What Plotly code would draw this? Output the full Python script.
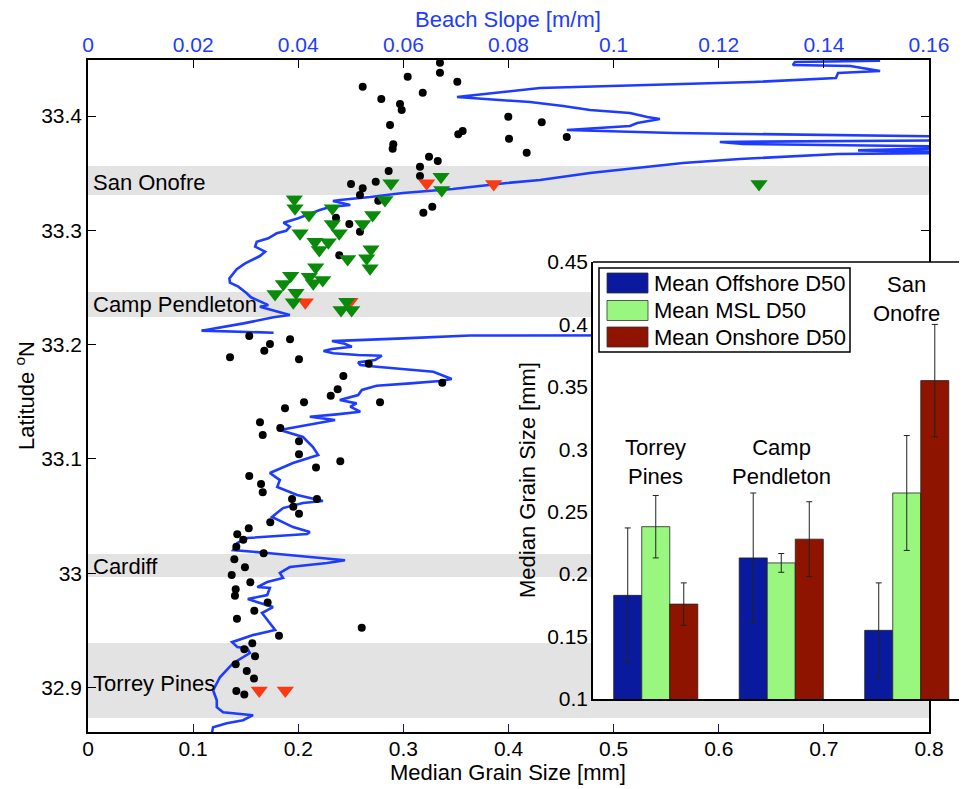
import plotly.graph_objects as go

# ---------------- data ----------------
# Beach slope profile along the coast (latitude, slope); None = gap
slope_lat = [33.4484, 33.4472, 33.4446, 33.4437, 33.4394, 33.4376, 33.4332, 33.4297, 33.4245, 33.4166,
             33.4122, 33.4087, 33.4052, 33.4026, 33.3991, 33.3974, 33.3939, 33.3913, 33.3878, 33.3851,
             33.3816, 33.3790, 33.3773, 33.3755, 33.3729, 33.3699, 33.3680, 33.3668, 33.3624, 33.3589,
             33.3501, 33.3440, 33.3414, 33.3361, 33.3326, 33.3291, 33.3265, 33.3256, 33.3221, 33.3204,
             33.3178, 33.3105, 33.3067, 33.3031, 33.2996, 33.2974, 33.2930, 33.2900, 33.2857, 33.2813,
             33.2775, 33.2711, 33.2659, 33.2580, 33.2542, 33.2507, 33.2449, 33.2414, 33.2346, 33.2332,
             33.2259, 33.2239, 33.2186, 33.2122, 33.2104, None,
             33.2084, 33.2080, 33.2055, 33.2031, 33.2011, 33.1982, 33.1962, 33.1944, 33.1924, 33.1909,
             33.1903, 33.1865, 33.1845, 33.1822, 33.1807, 33.1763, 33.1699, 33.1682, 33.1661, 33.1640,
             33.1603, 33.1559, 33.1515, 33.1486, 33.1457, 33.1413, 33.1390, 33.1369, 33.1340, 33.1297,
             33.1270, 33.1253, 33.1192, 33.1104, 33.1034, 33.0964, 33.0877, 33.0815, 33.0754, 33.0684,
             33.0632, 33.0614, 33.0570, 33.0492, 33.0404, 33.0360, 33.0343, 33.0308, 33.0264, 33.0203,
             33.0177, 33.0142, 33.0114, 33.0089, 33.0054, 33.0002, 32.9958, 32.9923, 32.9879, 32.9871,
             32.9809, 32.9774, 32.9704, 32.9652, 32.9564, 32.9503, 32.9459, 32.9397, 32.9354, 32.9345,
             32.9301, 32.9213, 32.9090, 32.8976, 32.8889, 32.8828, 32.8784, 32.8758, 32.8714, 32.8688,
             32.8653, 32.8609]
slope_val = [0.1507, 0.1345, 0.1341, 0.1450, 0.1507, 0.1427, 0.1423, 0.1265, 0.0860, 0.0702,
             0.0841, 0.0904, 0.0955, 0.1031, 0.1064, 0.1088, 0.1045, 0.1031, 0.0911, 0.1113,
             0.1720, 0.1720, 0.1202, 0.1246, 0.1720, 0.1465, 0.1720, 0.1427, 0.1240, 0.1132,
             0.0955, 0.0860, 0.0797, 0.0694, 0.0599, 0.0537, 0.0479, 0.0466, 0.0499, 0.0460,
             0.0441, 0.0400, 0.0372, 0.0384, 0.0377, 0.0359, 0.0343, 0.0321, 0.0318, 0.0337,
             0.0327, 0.0299, 0.0283, 0.0269, 0.0270, 0.0286, 0.0302, 0.0310, 0.0343, 0.0327,
             0.0384, 0.0353, 0.0296, 0.0216, 0.0353, None,
             0.1750, 0.0727, 0.0600, 0.0464, 0.0486, 0.0502, 0.0464, 0.0448, 0.0467, 0.0514,
             0.0559, 0.0546, 0.0514, 0.0518, 0.0549, 0.0657, 0.0692, 0.0670, 0.0613, 0.0549,
             0.0521, 0.0514, 0.0479, 0.0511, 0.0499, 0.0518, 0.0473, 0.0422, 0.0470, 0.0416,
             0.0379, 0.0365, 0.0409, 0.0428, 0.0438, 0.0390, 0.0346, 0.0365, 0.0360, 0.0398,
             0.0447, 0.0409, 0.0371, 0.0350, 0.0390, 0.0422, 0.0417, 0.0303, 0.0284, 0.0276,
             0.0341, 0.0428, 0.0489, 0.0455, 0.0384, 0.0365, 0.0371, 0.0341, 0.0322, 0.0346,
             0.0341, 0.0304, 0.0352, 0.0331, 0.0346, 0.0356, 0.0314, 0.0274, 0.0284, 0.0303,
             0.0308, 0.0276, 0.0251, 0.0238, 0.0245, 0.0245, 0.0257, 0.0314, 0.0295, 0.0264,
             0.0238, 0.0236]

# Median grain size samples (black dots)
dot_d50 = [0.2613, 0.3348, 0.3348, 0.3513, 0.3041, 0.2790, 0.2968, 0.2984, 0.3184, 0.2873,
           0.2904, 0.2898, 0.3522, 0.3564, 0.3998, 0.4005, 0.4173, 0.4316, 0.4554, 0.2860,
           0.3158, 0.3244, 0.3327, 0.3158, 0.2737, 0.2502, 0.2613, 0.2587, 0.2761, 0.3275,
           0.3190, 0.2359, 0.2486, 0.2587, 0.2390, 0.1534, 0.1731, 0.1677, 0.1922, 0.1351,
           0.2007, 0.2670, 0.2429, 0.3370, 0.2375, 0.2309, 0.2778, 0.2055, 0.1874, 0.1636,
           0.1829, 0.1662, 0.2007, 0.2007, 0.2400, 0.2169, 0.1534, 0.1646, 0.1662, 0.1941,
           0.2178, 0.1953, 0.2007, 0.1734, 0.1529, 0.1420, 0.1477, 0.1411, 0.1671, 0.1392,
           0.1493, 0.1367, 0.1544, 0.1405, 0.1398, 0.1709, 0.1582, 0.1417, 0.2604, 0.1817,
           0.1563, 0.1487, 0.1589, 0.1405, 0.1510, 0.1579, 0.1411, 0.1487]
dot_lat = [33.4256, 33.4466, 33.4379, 33.4300, 33.4344, 33.4149, 33.4105, 33.4052, 33.4204, 33.3921,
           33.3752, 33.3714, 33.3840, 33.3869, 33.3994, 33.3801, 33.3679, 33.3945, 33.3816, 33.3519,
           33.3556, 33.3644, 33.3606, 33.3475, 33.3425, 33.3405, 33.3367, 33.3309, 33.3259, 33.3206,
           33.3154, 33.3110, 33.3055, 33.2988, 33.2781, 33.2075, 33.2005, 33.1947, 33.2046, 33.1889,
           33.1871, 33.1833, 33.1725, 33.1667, 33.1609, 33.1553, 33.1495, 33.1495, 33.1443, 33.1320,
           33.1270, 33.1209, 33.1154, 33.1040, 33.0979, 33.0926, 33.0850, 33.0780, 33.0708, 33.0649,
           33.0649, 33.0582, 33.0521, 33.0445, 33.0393, 33.0340, 33.0293, 33.0232, 33.0174, 33.0122,
           33.0052, 32.9984, 32.9920, 32.9859, 32.9803, 32.9745, 32.9672, 32.9602, 32.9523, 32.9453,
           32.9387, 32.9334, 32.9273, 32.9203, 32.9144, 32.9080, 32.8969, 32.8940]

# Red triangles
red_d50 = [0.1629, 0.1877, 0.3222, 0.3859, 0.2067, 0.2492]
red_lat = [32.8974, 32.8974, 33.3411, 33.3405, 33.2370, 33.2375]

# Green triangles
green_d50 = [0.2882, 0.3358, 0.3365, 0.2825, 0.1962, 0.1969, 0.2102, 0.2324, 0.2708, 0.2324,
             0.2613, 0.2017, 0.2390, 0.2159, 0.2286, 0.2200, 0.2692, 0.2651, 0.2470, 0.2683,
             0.2166, 0.1928, 0.2105, 0.2143, 0.2233, 0.1858, 0.1779, 0.1979, 0.1953, 0.2407,
             0.2508, 0.2461, 0.6383]
green_lat = [33.3411, 33.3469, 33.3353, 33.3265, 33.3271, 33.3192, 33.3134, 33.3192, 33.3134, 33.3055,
             33.3055, 33.2974, 33.2974, 33.2900, 33.2895, 33.2828, 33.2834, 33.2755, 33.2749, 33.2668,
             33.2676, 33.2603, 33.2594, 33.2536, 33.2565, 33.2530, 33.2443, 33.2454, 33.2370, 33.2303,
             33.2303, 33.2375, 33.3405]

# Study sites (latitude bands)
site_names = ["San Onofre", "Camp Pendleton", "Cardiff", "Torrey Pines"]
site_lat_lo = [33.3309, 33.2241, 32.9967, 32.8733]
site_lat_hi = [33.3563, 33.2460, 33.0168, 32.9389]
site_label_lat = [33.3414, 33.2355, 33.0063, 32.9035]

# Inset bar chart
groups = ["Torrey<br>Pines", "Camp<br>Pendleton", "San<br>Onofre"]
group_pos = [1, 2, 3]
group_label_y = [0.29, 0.29, 0.42]
series_names = ["Mean Offshore D50", "Mean MSL D50", "Mean Onshore D50"]
series_colors = ["#0A1A9E", "#99F77F", "#8E1400"]
offshore_mean = [0.183, 0.213, 0.155]
offshore_std = [0.054, 0.052, 0.038]
msl_mean = [0.238, 0.209, 0.265]
msl_std = [0.025, 0.0075, 0.046]
onshore_mean = [0.176, 0.228, 0.355]
onshore_std = [0.017, 0.030, 0.045]
bar_means = [offshore_mean, msl_mean, onshore_mean]
bar_stds = [offshore_std, msl_std, onshore_std]

# ---------------- figure ----------------
FONT = "Liberation Sans, Arial, Helvetica, sans-serif"
FS = 22      # text labels
FT = 21      # tick labels
BLUE = "#1E3CFF"
OFF = 8                      # page offset of the plot div (body margin)
W, H = 967 - OFF, 789 - OFF
# target positions in page pixels
AX_L, AX_R, AX_T, AX_B = 88, 929, 60, 732
ML, MR, MT, MB = AX_L - OFF, 0, AX_T - OFF, 789 - AX_B
pw = W - ML - MR
ph = H - MT - MB
inset_left, inset_top, inset_bottom = 593, 262, 699


def px_x(p):
    return (p - AX_L) / pw


def px_y(p):
    return (AX_B - p) / ph


fig = go.Figure()

# slope line (on primary x axis -> drawn beneath markers)
fig.add_trace(go.Scatter(x=slope_val, y=slope_lat, mode="lines", xaxis="x", yaxis="y",
                         line=dict(color=BLUE, width=2.6), connectgaps=False,
                         showlegend=False, hoverinfo="skip"))

fig.add_trace(go.Scatter(x=dot_d50, y=dot_lat, mode="markers", xaxis="x2", yaxis="y",
                         marker=dict(color="black", size=8), showlegend=False))
fig.add_trace(go.Scatter(x=red_d50, y=red_lat, mode="markers", xaxis="x2", yaxis="y",
                         marker=dict(color="#FA3A12", size=15, symbol="triangle-down"),
                         showlegend=False))
fig.add_trace(go.Scatter(x=green_d50, y=green_lat, mode="markers", xaxis="x2", yaxis="y",
                         marker=dict(color="#0A8A0A", size=15, symbol="triangle-down"),
                         showlegend=False))

# inset bars
for name, col, m, s in zip(series_names, series_colors, bar_means, bar_stds):
    fig.add_trace(go.Bar(x=group_pos, y=m, name=name, xaxis="x3", yaxis="y3",
                         marker=dict(color=col, line=dict(color="#222222", width=0.8)),
                         error_y=dict(type="data", array=s, visible=True, color="#222222",
                                      thickness=1, width=3),
                         showlegend=False))

shapes = []
for lo, hi in zip(site_lat_lo, site_lat_hi):
    shapes.append(dict(type="rect", xref="x domain", yref="y", x0=0, x1=1, y0=lo, y1=hi,
                       fillcolor="#E3E3E3", line=dict(width=0), layer="below"))

annotations = []
for nm, ly in zip(site_names, site_label_lat):
    annotations.append(dict(text=nm, xref="x domain", yref="y", x=0.004, y=ly,
                            xanchor="left", yanchor="middle", showarrow=False,
                            font=dict(family=FONT, size=FS, color="black")))

for g, gx, gy in zip(groups, group_pos, group_label_y):
    annotations.append(dict(text=g, xref="x3", yref="y3", x=gx, y=gy, xanchor="center",
                            yanchor="middle", showarrow=False,
                            font=dict(family=FONT, size=FS, color="black")))

# custom legend (MATLAB style) inside inset
inset_w = 967 - inset_left
inset_h = inset_bottom - inset_top


def dx(p):
    return (p - inset_left) / inset_w


def dy(p):
    return (inset_bottom - p) / inset_h


shapes.append(dict(type="rect", xref="x3 domain", yref="y3 domain", x0=dx(599), x1=dx(850),
                   y0=dy(352), y1=dy(268), fillcolor="white", line=dict(color="black", width=1.5),
                   layer="above"))
row_y = [283, 310.5, 337]
for name, col, ry in zip(series_names, series_colors, row_y):
    shapes.append(dict(type="rect", xref="x3 domain", yref="y3 domain", x0=dx(607), x1=dx(648),
                       y0=dy(ry + 10), y1=dy(ry - 10), fillcolor=col,
                       line=dict(color="#333333", width=0.8), layer="above"))
    annotations.append(dict(text=name, xref="x3 domain", yref="y3 domain", x=dx(652), y=dy(ry),
                            xanchor="left", yanchor="middle", showarrow=False,
                            font=dict(family=FONT, size=FS, color="black")))

# inset top border
shapes.append(dict(type="line", xref="x3 domain", yref="y3 domain", x0=0, x1=1, y0=1, y1=1,
                   line=dict(color="black", width=1.5), layer="above"))

# axis titles
annotations += [
    dict(text="Beach Slope [m/m]", xref="paper", yref="paper", x=px_x(508), y=px_y(19),
         xanchor="center", yanchor="middle", showarrow=False, borderpad=0,
         font=dict(family=FONT, size=FS, color=BLUE)),
    dict(text="Median Grain Size [mm]", xref="paper", yref="paper", x=px_x(508), y=px_y(773),
         xanchor="center", yanchor="middle", showarrow=False, borderpad=0,
         font=dict(family=FONT, size=FS, color="black")),
    dict(text="Latitude <sup>o</sup>N", xref="paper", yref="paper", x=px_x(25), y=px_y(396),
         xanchor="center", yanchor="middle", showarrow=False, textangle=-90,
         font=dict(family=FONT, size=FS, color="black")),
    dict(text="Median Grain Size [mm]", xref="paper", yref="paper", x=px_x(527), y=px_y(480),
         xanchor="center", yanchor="middle", showarrow=False, textangle=-90,
         font=dict(family=FONT, size=FS, color="black")),
]

main_dom = [0, px_x(AX_R)]

fig.update_layout(
    width=W, height=H, autosize=False,
    margin=dict(l=ML, r=MR, t=MT, b=MB, autoexpand=False),
    paper_bgcolor="white", plot_bgcolor="white",
    font=dict(family=FONT, size=FT, color="black"),
    barmode="group", bargap=0.33, bargroupgap=0,
    showlegend=False,
    xaxis=dict(domain=main_dom, range=[0, 0.16], dtick=0.02, tick0=0, side="top", anchor="y",
               showline=True, linecolor="black", linewidth=1.5, ticks="inside", ticklen=8,
               tickcolor="black", tickfont=dict(color=BLUE, size=FT, family=FONT),
               showgrid=False, zeroline=False, ticklabelstandoff=-2),
    xaxis2=dict(overlaying="x", range=[0, 0.8], dtick=0.1, tick0=0, side="bottom", anchor="y",
                showline=True, linecolor="black", linewidth=1.5, ticks="inside", ticklen=8,
                tickcolor="#1A1A60", tickfont=dict(color="black", size=FT, family=FONT),
                showgrid=False, zeroline=False, ticklabelstandoff=-3),
    yaxis=dict(domain=[0, 1], range=[32.8611, 33.449], dtick=0.1, tick0=32.9, anchor="x",
               showline=True, linecolor="black", linewidth=1.5, ticks="inside", ticklen=8,
               tickcolor="black", mirror="ticks", showgrid=False, zeroline=False,
               tickfont=dict(color="black", size=FT, family=FONT), ticklabelstandoff=0),
    xaxis3=dict(domain=[px_x(inset_left), 1], range=[0.5, 3.48], anchor="y3",
                showline=True, linecolor="black", linewidth=1.5, mirror=False,
                showticklabels=False, ticks="", showgrid=False, zeroline=False),
    yaxis3=dict(domain=[px_y(inset_bottom), px_y(inset_top)], range=[0.1, 0.45], dtick=0.05,
                tick0=0.1, anchor="x3", showline=True, linecolor="black", linewidth=1.5,
                ticks="", showgrid=False, zeroline=False, tickformat=".2~f",
                tickfont=dict(color="black", size=FT, family=FONT), ticklabelstandoff=-1),
    shapes=shapes,
    annotations=annotations,
)

fig.write_html("out.html")
